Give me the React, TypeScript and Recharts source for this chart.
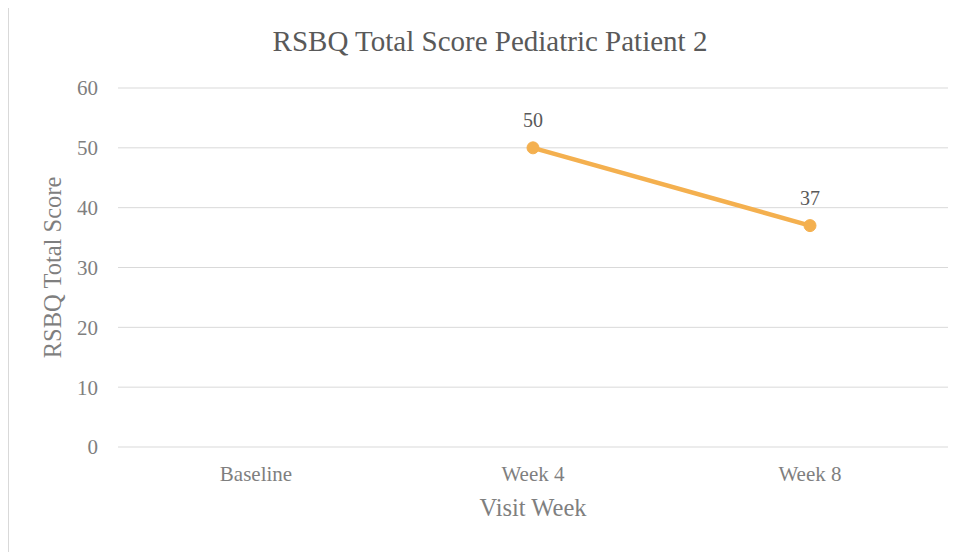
import { LineChart, Line, XAxis, YAxis, CartesianGrid, LabelList } from 'recharts'

const visits = ['Baseline', 'Week 4', 'Week 8']
const totalScores: (number | null)[] = [null, 50, 37]
const yTicks = [0, 10, 20, 30, 40, 50, 60]

const data = visits.map((visit, i) => ({ visit, score: totalScores[i] }))

const FONT = '"Liberation Serif", serif'
const LINE_COLOR = '#f4b04f'
const AXIS_TEXT = '#7f7f7f'

export default function App() {
  return (
    <div
      style={{
        position: 'relative',
        marginTop: -4,
        width: 955,
        height: 560,
        boxSizing: 'border-box',
        borderLeft: '1px solid #d9d9d9',
        borderTop: '1px solid #d9d9d9',
        borderRight: '1px solid #d9d9d9',
        background: '#fff',
        overflow: 'hidden',
      }}
    >
      <div
        style={{
          position: 'absolute',
          left: 0,
          top: 22,
          width: 962,
          textAlign: 'center',
          fontFamily: FONT,
          fontSize: 29,
          lineHeight: '29px',
          color: '#595959',
        }}
      >
        RSBQ Total Score Pediatric Patient 2
      </div>
      <LineChart
        width={953}
        height={560}
        data={data}
        margin={{ top: 83, right: 14, bottom: 49, left: 0 }}
        style={{ fontFamily: FONT }}
      >
        <CartesianGrid vertical={false} stroke="#d9d9d9" strokeWidth={1} />
        <XAxis
          dataKey="visit"
          padding={{ left: 138, right: 138 }}
          axisLine={false}
          tickLine={false}
          tickSize={0}
          tickMargin={19}
          height={69}
          tick={{ fill: AXIS_TEXT, fontSize: 21, fontFamily: FONT }}
          label={{
            value: 'Visit Week',
            position: 'insideBottom',
            offset: 0,
            fill: AXIS_TEXT,
            fontSize: 24.5,
            fontFamily: FONT,
          }}
        />
        <YAxis
          domain={[0, 60]}
          ticks={yTicks}
          width={109}
          axisLine={false}
          tickLine={false}
          tickSize={0}
          tickMargin={20}
          tick={{ fill: AXIS_TEXT, fontSize: 21, fontFamily: FONT }}
          label={{
            value: 'RSBQ Total Score',
            angle: -90,
            position: 'center',
            dx: -11,
            fill: AXIS_TEXT,
            fontSize: 24.5,
            fontFamily: FONT,
          }}
        />
        <Line
          type="linear"
          dataKey="score"
          stroke={LINE_COLOR}
          strokeWidth={4.5}
          dot={{ r: 6, fill: LINE_COLOR, stroke: LINE_COLOR, strokeWidth: 1 }}
          activeDot={false}
          isAnimationActive={false}
        >
          <LabelList
            dataKey="score"
            position="top"
            offset={21}
            fill="#595959"
            fontSize={20}
            fontFamily={FONT}
          />
        </Line>
      </LineChart>
    </div>
  )
}
